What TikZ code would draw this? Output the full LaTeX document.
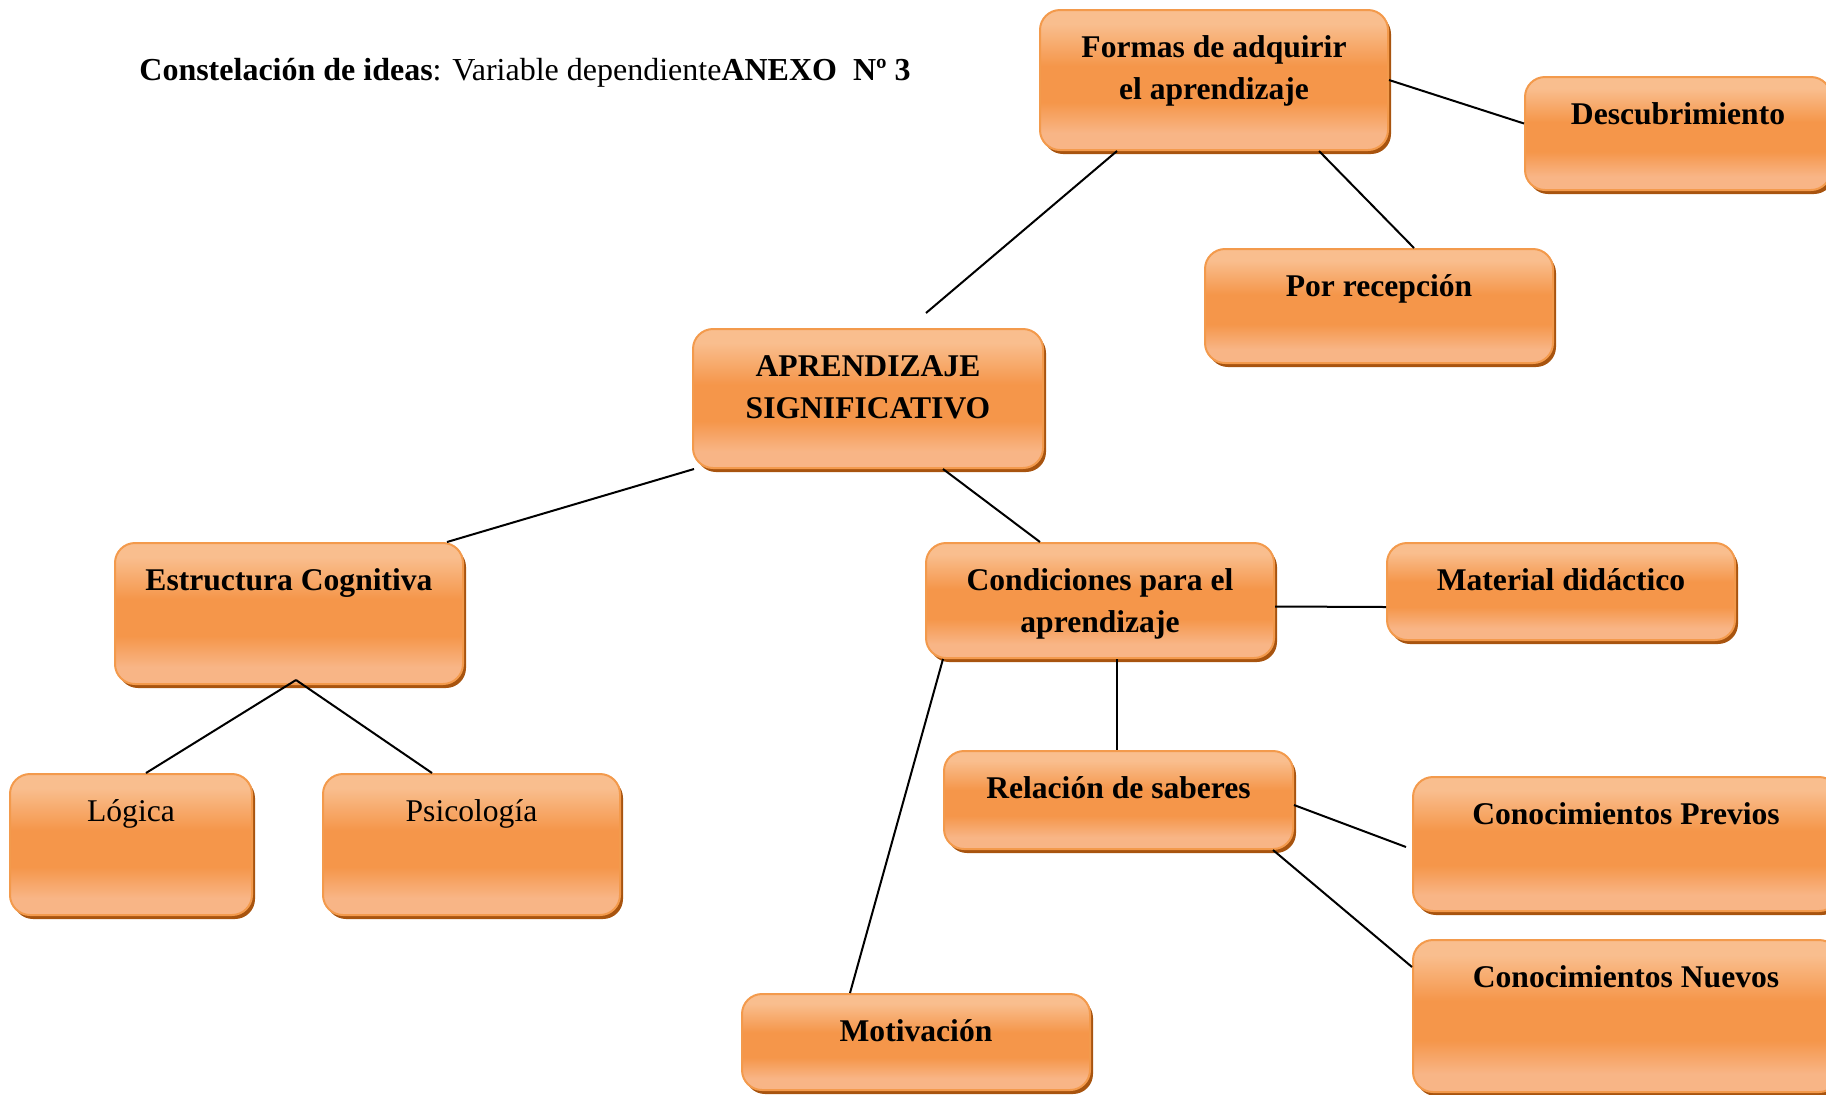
\documentclass[tikz,border=0pt]{standalone}
\usepackage{fontspec}
\setmainfont{Liberation Serif}
\usetikzlibrary{shadows,calc}
\definecolor{lt}{HTML}{F9BE8E}
\definecolor{lb}{HTML}{F8B586}
\definecolor{dk}{HTML}{F5964A}
\definecolor{bd}{HTML}{F39A4C}
\definecolor{shc}{HTML}{A8540F}
\pgfdeclareverticalshading{boxshade}{100bp}{color(0bp)=(lb); color(25bp)=(lb); color(31bp)=(lb); color(42bp)=(dk); color(55bp)=(dk); color(70bp)=(lt); color(75bp)=(lt); color(100bp)=(lt)}
\tikzset{
  obx/.style={draw=bd, line width=1pt, rounded corners=10pt, shading=boxshade, inner sep=0pt,
    general shadow={fill=shc, shadow xshift=1.5pt, shadow yshift=-2pt}},
  otx/.style={font=\fontsize{15.8}{21}\selectfont\bfseries, align=center, inner sep=0pt},
  rtx/.style={otx, font=\fontsize{15.8}{21}\selectfont},
  con/.style={draw=black, line width=1pt},
}
\newcommand\obox[7][otx]{%
  \node[obx, minimum width={(#4-#2)*0.5pt}, minimum height={(#5-#3)*0.5pt}] (#6) at ({(#2+#4)/2},{(#3+#5)/2}) {};
  \node[#1, anchor=north] (#6t) at ([yshift=-11.8pt]#6.north) {\rule{0pt}{12pt}#7};}
\begin{document}
\begin{tikzpicture}[x=0.5pt,y=-0.5pt]
\useasboundingbox (0,0) rectangle (1826,1094);
\clip (0,0) rectangle (1826,1094);
\node[anchor=base west, inner sep=0pt, font=\fontsize{16}{20.5}\selectfont] (title) at (139,80)
  {\textbf{Constelación de ideas}: Variable dependiente\textbf{ANEXO\ \ Nº 3}};
\coordinate (fa) at (926,313);
\obox{1040}{10}{1388}{150}{formas}{Formas de adquirir\\el aprendizaje}
\obox{1525}{77}{1831}{190}{desc}{Descubrimiento}
\obox{1205}{249}{1553}{363}{por}{Por recepción}
\obox{693}{329}{1043}{468}{apr}{APRENDIZAJE\\SIGNIFICATIVO}
\obox{115}{543}{463}{684}{est}{Estructura Cognitiva}
\obox{926}{543}{1274}{658}{cond}{Condiciones para el\\aprendizaje}
\obox{1387}{543}{1735}{640}{mat}{Material didáctico}
\obox[rtx]{10}{774}{252}{915}{log}{Lógica}
\obox[rtx]{323}{774}{620}{915}{psi}{Psicología}
\obox{944}{751}{1293}{849}{rel}{Relación de saberes}
\obox{1413}{777}{1839}{911}{cp}{Conocimientos Previos}
\obox{1413}{940}{1839}{1092}{cn}{Conocimientos Nuevos}
\obox{742}{994}{1090}{1090}{mot}{Motivación}
\draw[con] ([xshift=39pt]formas.south west) -- (fa);
\draw[con] (formas.east) -- ([yshift=5pt]desc.west);
\draw[con] ([xshift=140pt]formas.south west) -- ([xshift=105pt]por.north west);
\draw[con] ([xshift=1pt]apr.south west) -- ([xshift=166.5pt]est.north west);
\draw[con] ([xshift=125.5pt]apr.south west) -- ([xshift=57.5pt]cond.north west);
\draw[con] ([xshift=91pt,yshift=2.5pt]est.south west) -- ([xshift=68.5pt]log.north west);
\draw[con] ([xshift=91pt,yshift=2.5pt]est.south west) -- ([xshift=55pt]psi.north west);
\draw[con] ([yshift=-3pt]cond.east) -- ([yshift=-7.75pt]mat.west);
\draw[con] ([xshift=96pt]cond.south west) -- ([xshift=87pt]rel.north west);
\draw[con] ([xshift=9pt]cond.south west) -- ([xshift=54.5pt]mot.north west);
\draw[con] ([yshift=-2.5pt]rel.east) -- ([xshift=-3pt,yshift=-1.5pt]cp.west);
\draw[con] ([xshift=165pt]rel.south west) -- ([yshift=24.5pt]cn.west);
\end{tikzpicture}
\end{document}
